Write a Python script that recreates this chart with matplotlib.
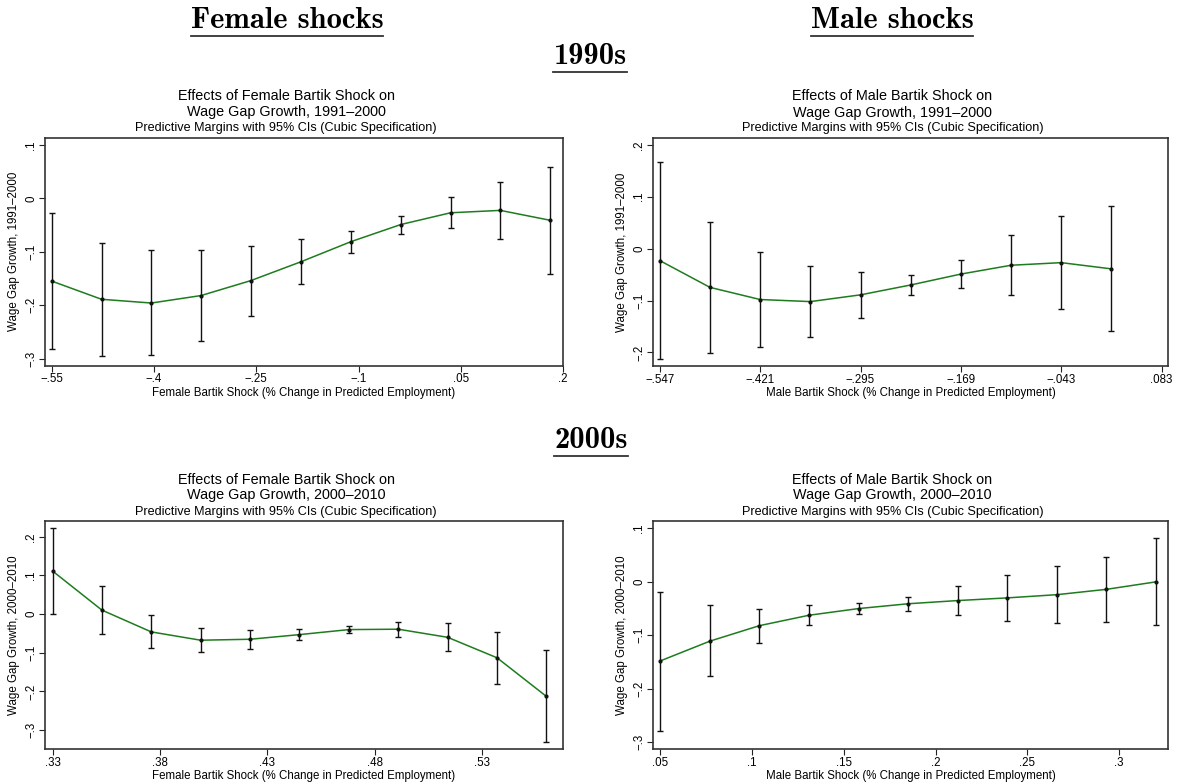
import matplotlib
matplotlib.use("Agg")
import matplotlib.pyplot as plt
from matplotlib.lines import Line2D

# ---- data ----
f90_x = [-0.55, -0.477, -0.404, -0.331, -0.258, -0.185, -0.111, -0.038, 0.035, 0.108, 0.181]
f90_y = [-0.155, -0.189, -0.196, -0.182, -0.154, -0.119, -0.081, -0.049, -0.027, -0.0225, -0.041]
f90_lo = [-0.282, -0.295, -0.294, -0.268, -0.221, -0.161, -0.102, -0.066, -0.056, -0.076, -0.142]
f90_hi = [-0.028, -0.083, -0.0975, -0.096, -0.089, -0.077, -0.061, -0.0325, 0.002, 0.031, 0.059]

m90_x = [-0.547, -0.484, -0.421, -0.358, -0.295, -0.232, -0.169, -0.106, -0.043, 0.020]
m90_y = [-0.023, -0.0746, -0.098, -0.102, -0.089, -0.070, -0.049, -0.032, -0.027, -0.039]
m90_lo = [-0.212, -0.2006, -0.19, -0.17, -0.134, -0.090, -0.076, -0.089, -0.116, -0.159]
m90_hi = [0.166, 0.052, -0.007, -0.033, -0.0457, -0.050, -0.022, 0.026, 0.062, 0.082]

f00_x = [0.33, 0.353, 0.376, 0.399, 0.422, 0.445, 0.468, 0.491, 0.514, 0.537, 0.560]
f00_y = [0.1116, 0.0104, -0.046, -0.0675, -0.065, -0.053, -0.040, -0.039, -0.060, -0.113, -0.213]
f00_lo = [0.0, -0.052, -0.0865, -0.0986, -0.090, -0.068, -0.050, -0.058, -0.096, -0.180, -0.331]
f00_hi = [0.222, 0.0735, -0.0035, -0.0346, -0.041, -0.038, -0.030, -0.020, -0.023, -0.047, -0.094]

m00_x = [0.05, 0.077, 0.104, 0.131, 0.158, 0.185, 0.212, 0.239, 0.266, 0.293, 0.320]
m00_y = [-0.148, -0.111, -0.082, -0.0625, -0.050, -0.041, -0.035, -0.030, -0.024, -0.014, 0.0]
m00_lo = [-0.279, -0.177, -0.115, -0.081, -0.061, -0.054, -0.0625, -0.0725, -0.077, -0.076, -0.081]
m00_hi = [-0.019, -0.044, -0.051, -0.044, -0.039, -0.029, -0.008, 0.012, 0.029, 0.047, 0.082]

f90_xticks = [-0.55, -0.4, -0.25, -0.1, 0.05, 0.2]
f90_xlabels = ["\u2212.55", "\u2212.4", "\u2212.25", "\u2212.1", ".05", ".2"]
f90_yticks = [0.1, 0, -0.1, -0.2, -0.3]
f90_ylabels = [".1", "0", "\u2212.1", "\u2212.2", "\u2212.3"]

m90_xticks = [-0.547, -0.421, -0.295, -0.169, -0.043, 0.083]
m90_xlabels = ["\u2212.547", "\u2212.421", "\u2212.295", "\u2212.169", "\u2212.043", ".083"]
m90_yticks = [0.2, 0.1, 0, -0.1, -0.2]
m90_ylabels = [".2", ".1", "0", "\u2212.1", "\u2212.2"]

f00_xticks = [0.33, 0.38, 0.43, 0.48, 0.53]
f00_xlabels = [".33", ".38", ".43", ".48", ".53"]
f00_yticks = [0.2, 0.1, 0, -0.1, -0.2, -0.3]
f00_ylabels = [".2", ".1", "0", "\u2212.1", "\u2212.2", "\u2212.3"]

m00_xticks = [0.05, 0.1, 0.15, 0.2, 0.25, 0.3]
m00_xlabels = [".05", ".1", ".15", ".2", ".25", ".3"]
m00_yticks = [0.1, 0, -0.1, -0.2, -0.3]
m00_ylabels = [".1", "0", "\u2212.1", "\u2212.2", "\u2212.3"]

plt.rcParams["font.family"] = ["Liberation Sans", "DejaVu Sans"]

W, H = 1180, 784
fig = plt.figure(figsize=(W / 100, H / 100), dpi=100)


def fx(px):
    return px / W


def fy(py):
    return 1 - py / H


def panel(box, x, y, lo, hi, xlim, ylim, xt, xl, yt, yl, sex, period):
    left, top, right, bottom = box
    ax = fig.add_axes([fx(left), fy(bottom), (right - left) / W, (bottom - top) / H])
    yerr = [[m - l for m, l in zip(y, lo)], [h - m for m, h in zip(y, hi)]]
    ax.errorbar(x, y, yerr=yerr, fmt="none", ecolor="#111111", elinewidth=1.0,
                capsize=2.5, capthick=1.0, zorder=2)
    ax.plot(x, y, color="#1e7b1e", lw=1.1, zorder=3)
    ax.plot(x, y, "o", color="#111111", ms=2.0, zorder=4)
    ax.set_xlim(*xlim)
    ax.set_ylim(*ylim)
    ax.set_xticks(xt)
    ax.set_xticklabels(xl, fontsize=8.3)
    ax.set_yticks(yt)
    ax.set_yticklabels(yl, fontsize=8.3, rotation=90, va="center")
    ax.tick_params(direction="out", length=4, width=0.8, pad=1.5, color="#222222")
    for s in ax.spines.values():
        s.set_linewidth(1.2)
        s.set_color("#333333")
    ax.set_xlabel(f"{sex} Bartik Shock (% Change in Predicted Employment)", fontsize=8.3, labelpad=1)
    ax.set_ylabel(f"Wage Gap Growth, {period}", fontsize=8.3, labelpad=4)
    # titles are centred on the whole graph region, a bit left of the plot box centre
    cx = (left + right) / 2 - 18
    fig.text(fx(cx), fy(top - 37.5), f"Effects of {sex} Bartik Shock on",
             ha="center", va="baseline", fontsize=10.4)
    fig.text(fx(cx), fy(top - 21.5), f"Wage Gap Growth, {period}",
             ha="center", va="baseline", fontsize=10.4)
    fig.text(fx(cx), fy(top - 6.5), "Predictive Margins with 95% CIs (Cubic Specification)",
             ha="center", va="baseline", fontsize=9.1)
    return ax


a1 = panel((45, 137.5, 563, 365.5), f90_x, f90_y, f90_lo, f90_hi, (-0.56, 0.197), (-0.313, 0.114),
           f90_xticks, f90_xlabels, f90_yticks, f90_ylabels, "Female", "1991\u20132000")
a2 = panel((653, 138, 1168, 366), m90_x, m90_y, m90_lo, m90_hi, (-0.5555, 0.091), (-0.226, 0.213),
           m90_xticks, m90_xlabels, m90_yticks, m90_ylabels, "Male", "1991\u20132000")
a3 = panel((45, 521, 563, 749), f00_x, f00_y, f00_lo, f00_hi, (0.3265, 0.5677), (-0.349, 0.241),
           f00_xticks, f00_xlabels, f00_yticks, f00_ylabels, "Female", "2000\u20132010")
a4 = panel((653, 521, 1168, 749), m00_x, m00_y, m00_lo, m00_hi, (0.046, 0.3266), (-0.313, 0.114),
           m00_xticks, m00_xlabels, m00_yticks, m00_ylabels, "Male", "2000\u20132010")

# section headings (bold serif, underlined)
heads = [("Female shocks", 287, 28.3, 35.7), ("Male shocks", 892, 28.3, 35.7),
         ("1990s", 590, 64.3, 72.3), ("2000s", 591, 448, 455.7)]
for s, cx, base, uy in heads:
    t = fig.text(fx(cx), fy(base), s, ha="center", va="baseline",
                 fontsize=22, family=["cmb10", "DejaVu Serif"])
    fig.canvas.draw()
    bb = t.get_window_extent(fig.canvas.get_renderer())
    fig.add_artist(Line2D([bb.x0 / W, bb.x1 / W], [fy(uy), fy(uy)], color="#333333", lw=1.3))

fig.savefig("out.png", dpi=100, facecolor="white")
